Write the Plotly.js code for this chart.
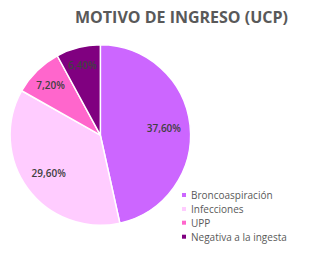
<!DOCTYPE html>
<html><head><meta charset="utf-8">
<script src="https://cdn.plot.ly/plotly-3.0.1.min.js"></script>
<style>html,body{margin:0;padding:0;background:#fff}#chart{width:329px;height:256px}</style>
</head><body><div id="chart"></div>
<script>
var labels = ["Broncoaspiración", "Infecciones", "UPP", "Negativa a la ingesta"];
var values = [37.6, 29.6, 7.2, 6.4];
var colors = ["#CC66FF", "#FFCCFF", "#FF66CC", "#800080"];

var texts = values.map(function(v){ return v.toFixed(2).replace('.', ',') + '%'; });
var dom = {x: [0.02, 0.59], y: [0.12, 0.825]};

var pieTrace = {
  type: 'pie',
  labels: labels,
  values: values,
  textinfo: 'none',
  sort: false,
  direction: 'clockwise',
  rotation: 0,
  marker: {colors: colors, line: {color: '#ffffff', width: 1.5}},
  domain: dom,
  hoverinfo: 'label+percent',
  showlegend: false
};
var labelTrace = {
  type: 'pie',
  labels: labels,
  values: values,
  text: texts,
  textinfo: 'text',
  textposition: 'inside',
  insidetextorientation: 'horizontal',
  sort: false,
  direction: 'clockwise',
  rotation: 0,
  hole: 0.42,
  marker: {colors: colors.map(function(){ return 'rgba(0,0,0,0)'; }), line: {width: 0}},
  textfont: {family: 'Open Sans, sans-serif', size: 10, color: '#404040', weight: 600},
  domain: dom,
  hoverinfo: 'skip',
  showlegend: false
};

var annotations = [{
  text: '<b>MOTIVO DE INGRESO (UCP)</b>',
  xref: 'paper', yref: 'paper', x: 181/329, y: 1 - 17/256,
  xanchor: 'center', yanchor: 'middle', showarrow: false,
  font: {family: 'Open Sans, sans-serif', size: 16, color: '#595959'}
}];
var shapes = [];
var rowY = [195, 209, 222.7, 236.7];
labels.forEach(function(l, i){
  annotations.push({
    text: l, xref: 'paper', yref: 'paper', x: 189/329, y: 1 - rowY[i]/256,
    xanchor: 'left', yanchor: 'middle', showarrow: false,
    font: {family: 'Open Sans, sans-serif', size: 10, color: '#595959'}
  });
  shapes.push({
    type: 'rect', xref: 'paper', yref: 'paper',
    x0: 182/329, x1: 186/329, y0: 1 - (rowY[i]+2)/256, y1: 1 - (rowY[i]-2)/256,
    fillcolor: colors[i], line: {width: 0}
  });
});

var layout = {
  width: 329, height: 256,
  margin: {l: 0, r: 0, t: 0, b: 0},
  paper_bgcolor: '#ffffff',
  showlegend: false,
  annotations: annotations,
  shapes: shapes
};
Plotly.newPlot('chart', [pieTrace, labelTrace], layout, {displayModeBar: false, staticPlot: true});
</script></body></html>
